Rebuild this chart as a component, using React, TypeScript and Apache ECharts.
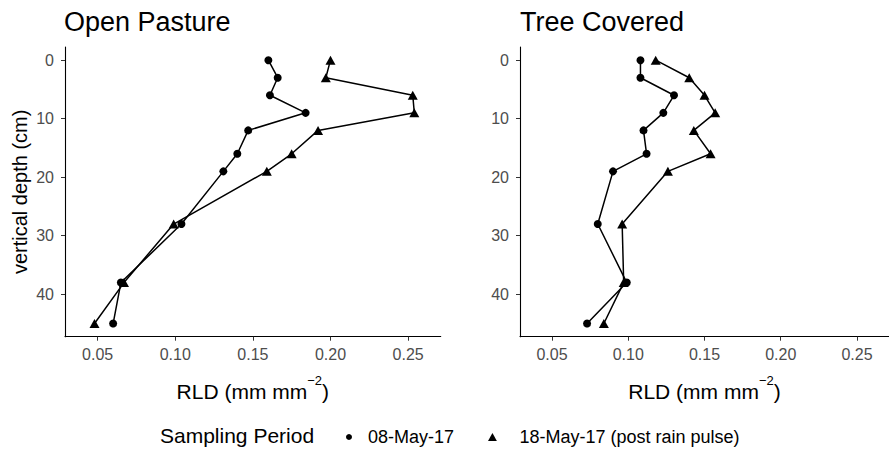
import React, { useEffect, useRef } from "react";
import * as echarts from "echarts";

const depths = [0, 3, 6, 9, 12, 16, 19, 28, 38, 45];
const openMay08 = [0.160, 0.166, 0.161, 0.184, 0.147, 0.140, 0.131, 0.104, 0.065, 0.060];
const openMay18 = [0.200, 0.197, 0.253, 0.254, 0.192, 0.175, 0.159, 0.099, 0.067, 0.048];
const treeMay08 = [0.108, 0.108, 0.130, 0.123, 0.110, 0.112, 0.090, 0.080, 0.099, 0.073];
const treeMay18 = [0.118, 0.140, 0.150, 0.157, 0.143, 0.154, 0.126, 0.096, 0.097, 0.084];
const xTicks = [0.05, 0.1, 0.15, 0.2, 0.25];
const yTicks = [0, 10, 20, 30, 40];
const panelTitles = ["Open Pasture", "Tree Covered"];
const seriesNames = ["08-May-17", "18-May-17 (post rain pulse)"];

const FONT = "'Liberation Sans', Arial, sans-serif";
const TRI = "path://M5,0 L10,9 L0,9 Z";

export default function App() {
  const ref = useRef<HTMLDivElement>(null);
  useEffect(() => {
    document.body.style.margin = "0";
    if (!ref.current) return;
    const chart = echarts.init(ref.current, null, { renderer: "svg" });
    const grids = [
      { left: 65, top: 47, width: 375.7, height: 289.7 },
      { left: 520, top: 47, width: 375.7, height: 289.7 },
    ];
    const mkX = (i: number) => ({
      type: "value",
      gridIndex: i,
      min: 0.029,
      max: 0.271,
      splitLine: { show: false },
      axisLine: { show: true, onZero: false, lineStyle: { color: "#000", width: 1.1 } },
      axisTick: { show: true, customValues: xTicks, length: 4, lineStyle: { color: "#333" } },
      axisLabel: {
        customValues: xTicks,
        formatter: (v: number) => v.toFixed(2),
        fontSize: 16,
        color: "#4d4d4d",
        fontFamily: FONT,
        margin: 10,
      },
      name: "{n|RLD (mm mm}{s|−2}{n|)}",
      nameLocation: "middle",
      nameGap: 37,
      nameTextStyle: {
        fontFamily: FONT,
        color: "#000",
        rich: {
          n: { fontSize: 21, fontFamily: FONT, color: "#000", lineHeight: 28, verticalAlign: "bottom" },
          s: { fontSize: 13, fontFamily: FONT, color: "#000", lineHeight: 28, verticalAlign: "top" },
        },
      },
    });
    const mkY = (i: number) => ({
      type: "value",
      gridIndex: i,
      inverse: true,
      min: -2.25,
      max: 47.25,
      splitLine: { show: false },
      axisLine: { show: true, onZero: false, lineStyle: { color: "#000", width: 1.1 } },
      axisTick: { show: true, customValues: yTicks, length: 4, lineStyle: { color: "#333" } },
      axisLabel: {
        customValues: yTicks,
        fontSize: 16,
        color: "#4d4d4d",
        fontFamily: FONT,
        margin: 11,
      },
      name: i === 0 ? "vertical depth (cm)" : "",
      nameLocation: "middle",
      nameGap: 35,
      nameTextStyle: { fontSize: 20, fontFamily: FONT, color: "#000" },
    });
    const mkSeries = (name: string, vals: number[], i: number, tri: boolean) => ({
      type: "line",
      name,
      xAxisIndex: i,
      yAxisIndex: i,
      data: vals.map((v, k) => [v, depths[k]]),
      symbol: tri ? TRI : "circle",
      symbolSize: tri ? [10, 9] : 8,
      showAllSymbol: true,
      lineStyle: { color: "#000", width: 1.5 },
      itemStyle: { color: "#000" },
      z: 3,
    });
    const legendText = { fontSize: 18, color: "#000", fontFamily: FONT };
    chart.setOption({
      animation: false,
      textStyle: { fontFamily: FONT },
      title: panelTitles.map((t, i) => ({
        text: t,
        left: i === 0 ? 64 : 520,
        top: 8,
        padding: 0,
        textStyle: { fontSize: 27, fontWeight: "normal", color: "#000", fontFamily: FONT },
      })),
      grid: grids,
      xAxis: [mkX(0), mkX(1)],
      yAxis: [mkY(0), mkY(1)],
      legend: [
        {
          left: 341,
          top: 423,
          itemWidth: 28,
          itemHeight: 6,
          symbolKeepAspect: true,
          selectedMode: false,
          data: [{ name: seriesNames[0], icon: "circle" }],
          textStyle: legendText,
          itemStyle: { color: "#000" },
        },
        {
          left: 483,
          top: 423,
          itemWidth: 44,
          itemHeight: 8,
          symbolKeepAspect: true,
          selectedMode: false,
          data: [{ name: seriesNames[1], icon: TRI }],
          textStyle: legendText,
          itemStyle: { color: "#000" },
        },
      ],
      graphic: [
        {
          type: "text",
          left: 160,
          top: 425,
          style: { text: "Sampling Period", fontSize: 21, fill: "#000", fontFamily: FONT },
        },
      ],
      series: [
        mkSeries(seriesNames[0], openMay08, 0, false),
        mkSeries(seriesNames[1], openMay18, 0, true),
        mkSeries(seriesNames[0], treeMay08, 1, false),
        mkSeries(seriesNames[1], treeMay18, 1, true),
      ],
    });
    return () => chart.dispose();
  }, []);
  return <div ref={ref} style={{ width: 889, height: 451 }} />;
}
